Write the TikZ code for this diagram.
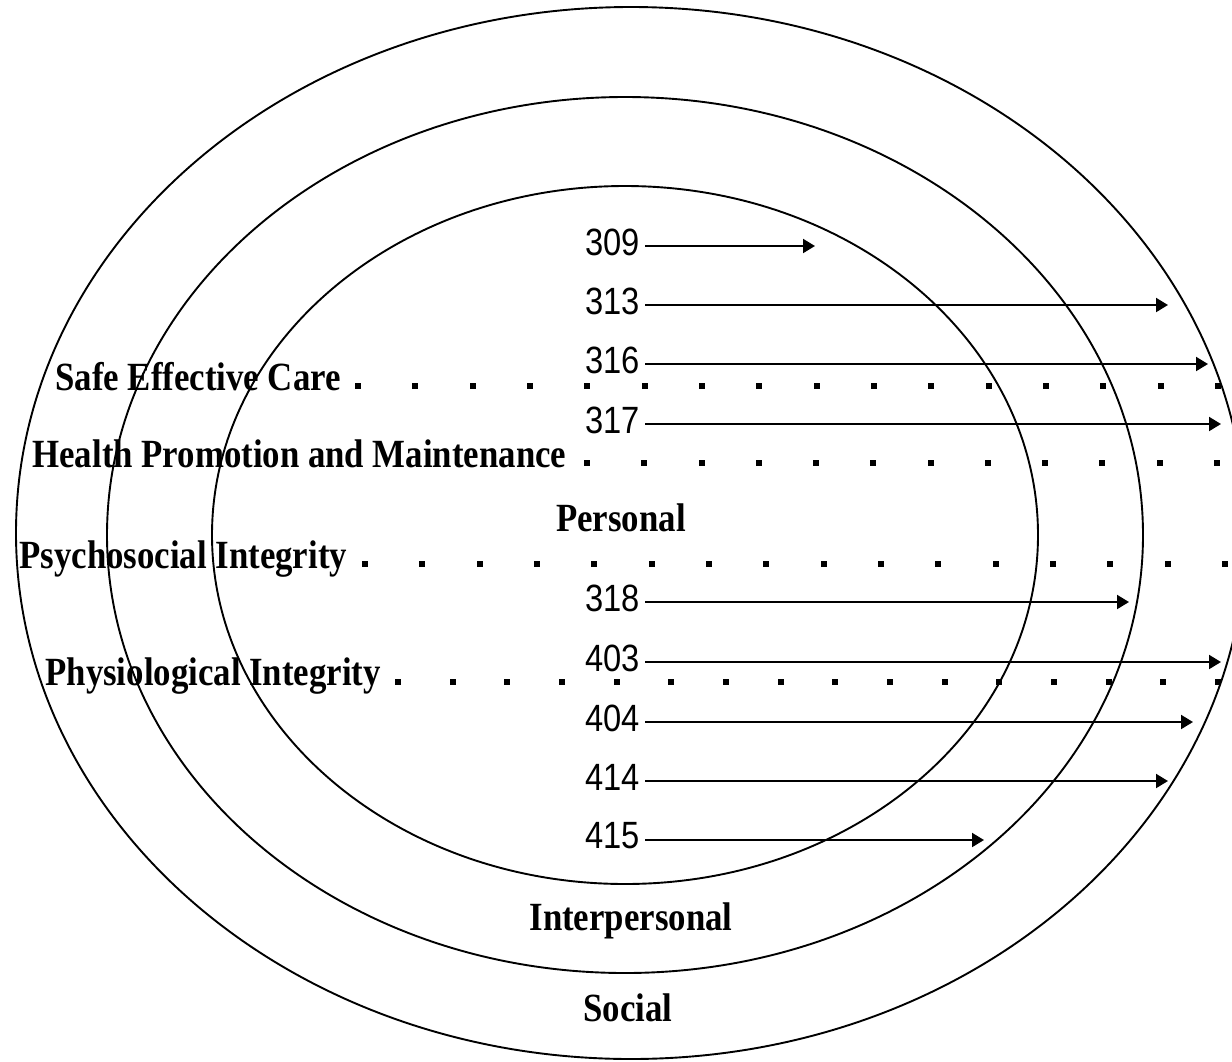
\documentclass[tikz,border=0pt]{standalone}
\usepackage{fontspec}
\usepackage{tikz}
\usetikzlibrary{arrows.meta}

\newfontfamily\numfont[FakeStretch=0.86]{Liberation Sans}
\newfontfamily\capfont[FakeStretch=0.87]{Liberation Serif}

\tikzset{
  ring/.style={line width=0.95pt},
  num/.style={anchor=east, inner xsep=2.5pt, inner ysep=0pt, font=\numfont\fontsize{19}{22}\selectfont},
  lab/.style={anchor=base west, inner sep=0pt, font=\capfont\bfseries\fontsize{20}{24}\selectfont},
  ringlab/.style={lab, anchor=base},
  link/.style={line width=1pt, -{Triangle[length=6pt,width=7pt]}},
}

\begin{document}
\begin{tikzpicture}[x=1pt,y=1pt,yscale=-0.5,xscale=0.5]
    \useasboundingbox (0,0) rectangle (1232,1061);

    %Shape: Ellipse [social]
    \draw [ring] (631,533) ellipse [x radius=615, y radius=526];
    %Shape: Ellipse [interpersonal]
    \draw [ring] (625,535) ellipse [x radius=518, y radius=438];
    %Shape: Ellipse [personal]
    \draw [ring] (625,535) ellipse [x radius=413, y radius=349];

    % Text Node
    \node [lab] (safe) at (55,390) {Safe Effective Care};
    % Text Node
    \node [lab] (health) at (32,467) {Health Promotion and Maintenance};
    % Text Node
    \node [lab] (psycho) at (19,568) {Psychosocial Integrity};
    % Text Node
    \node [lab] (physio) at (45,685) {Physiological Integrity};
    % Text Node
    \node [ringlab] (personal) at (621,531) {Personal};
    % Text Node
    \node [ringlab] (interpersonal) at (631,930) {Interpersonal};
    % Text Node
    \node [ringlab] (social) at (628,1021) {Social};

    % dotted leaders
    \foreach \i in {0,...,15} \fill (358+57.33*\i-3,383) rectangle ++(6,6);
    \foreach \i in {0,...,11} \fill (587+57.27*\i-3,460) rectangle ++(6,6);
    \foreach \i in {0,...,15} \fill (365+57.33*\i-3,561) rectangle ++(6,6);
    \foreach \i in {0,...,15} \fill (398+54.67*\i-3,679) rectangle ++(6,6);

    %Straight Lines
    \foreach \n/\y/\t in {309/246/815, 313/305/1168, 316/364/1208, 317/424/1221,
                          318/602/1129, 403/662/1221, 404/722/1193, 414/781/1168, 415/840/984} {
        \node [num] (n\n) at (645,\y-4) {\n};
        \coordinate (t\n) at (\t,\y);
        \draw [link] (n\n.east |- t\n) -- (t\n);
    }

\end{tikzpicture}
\end{document}
